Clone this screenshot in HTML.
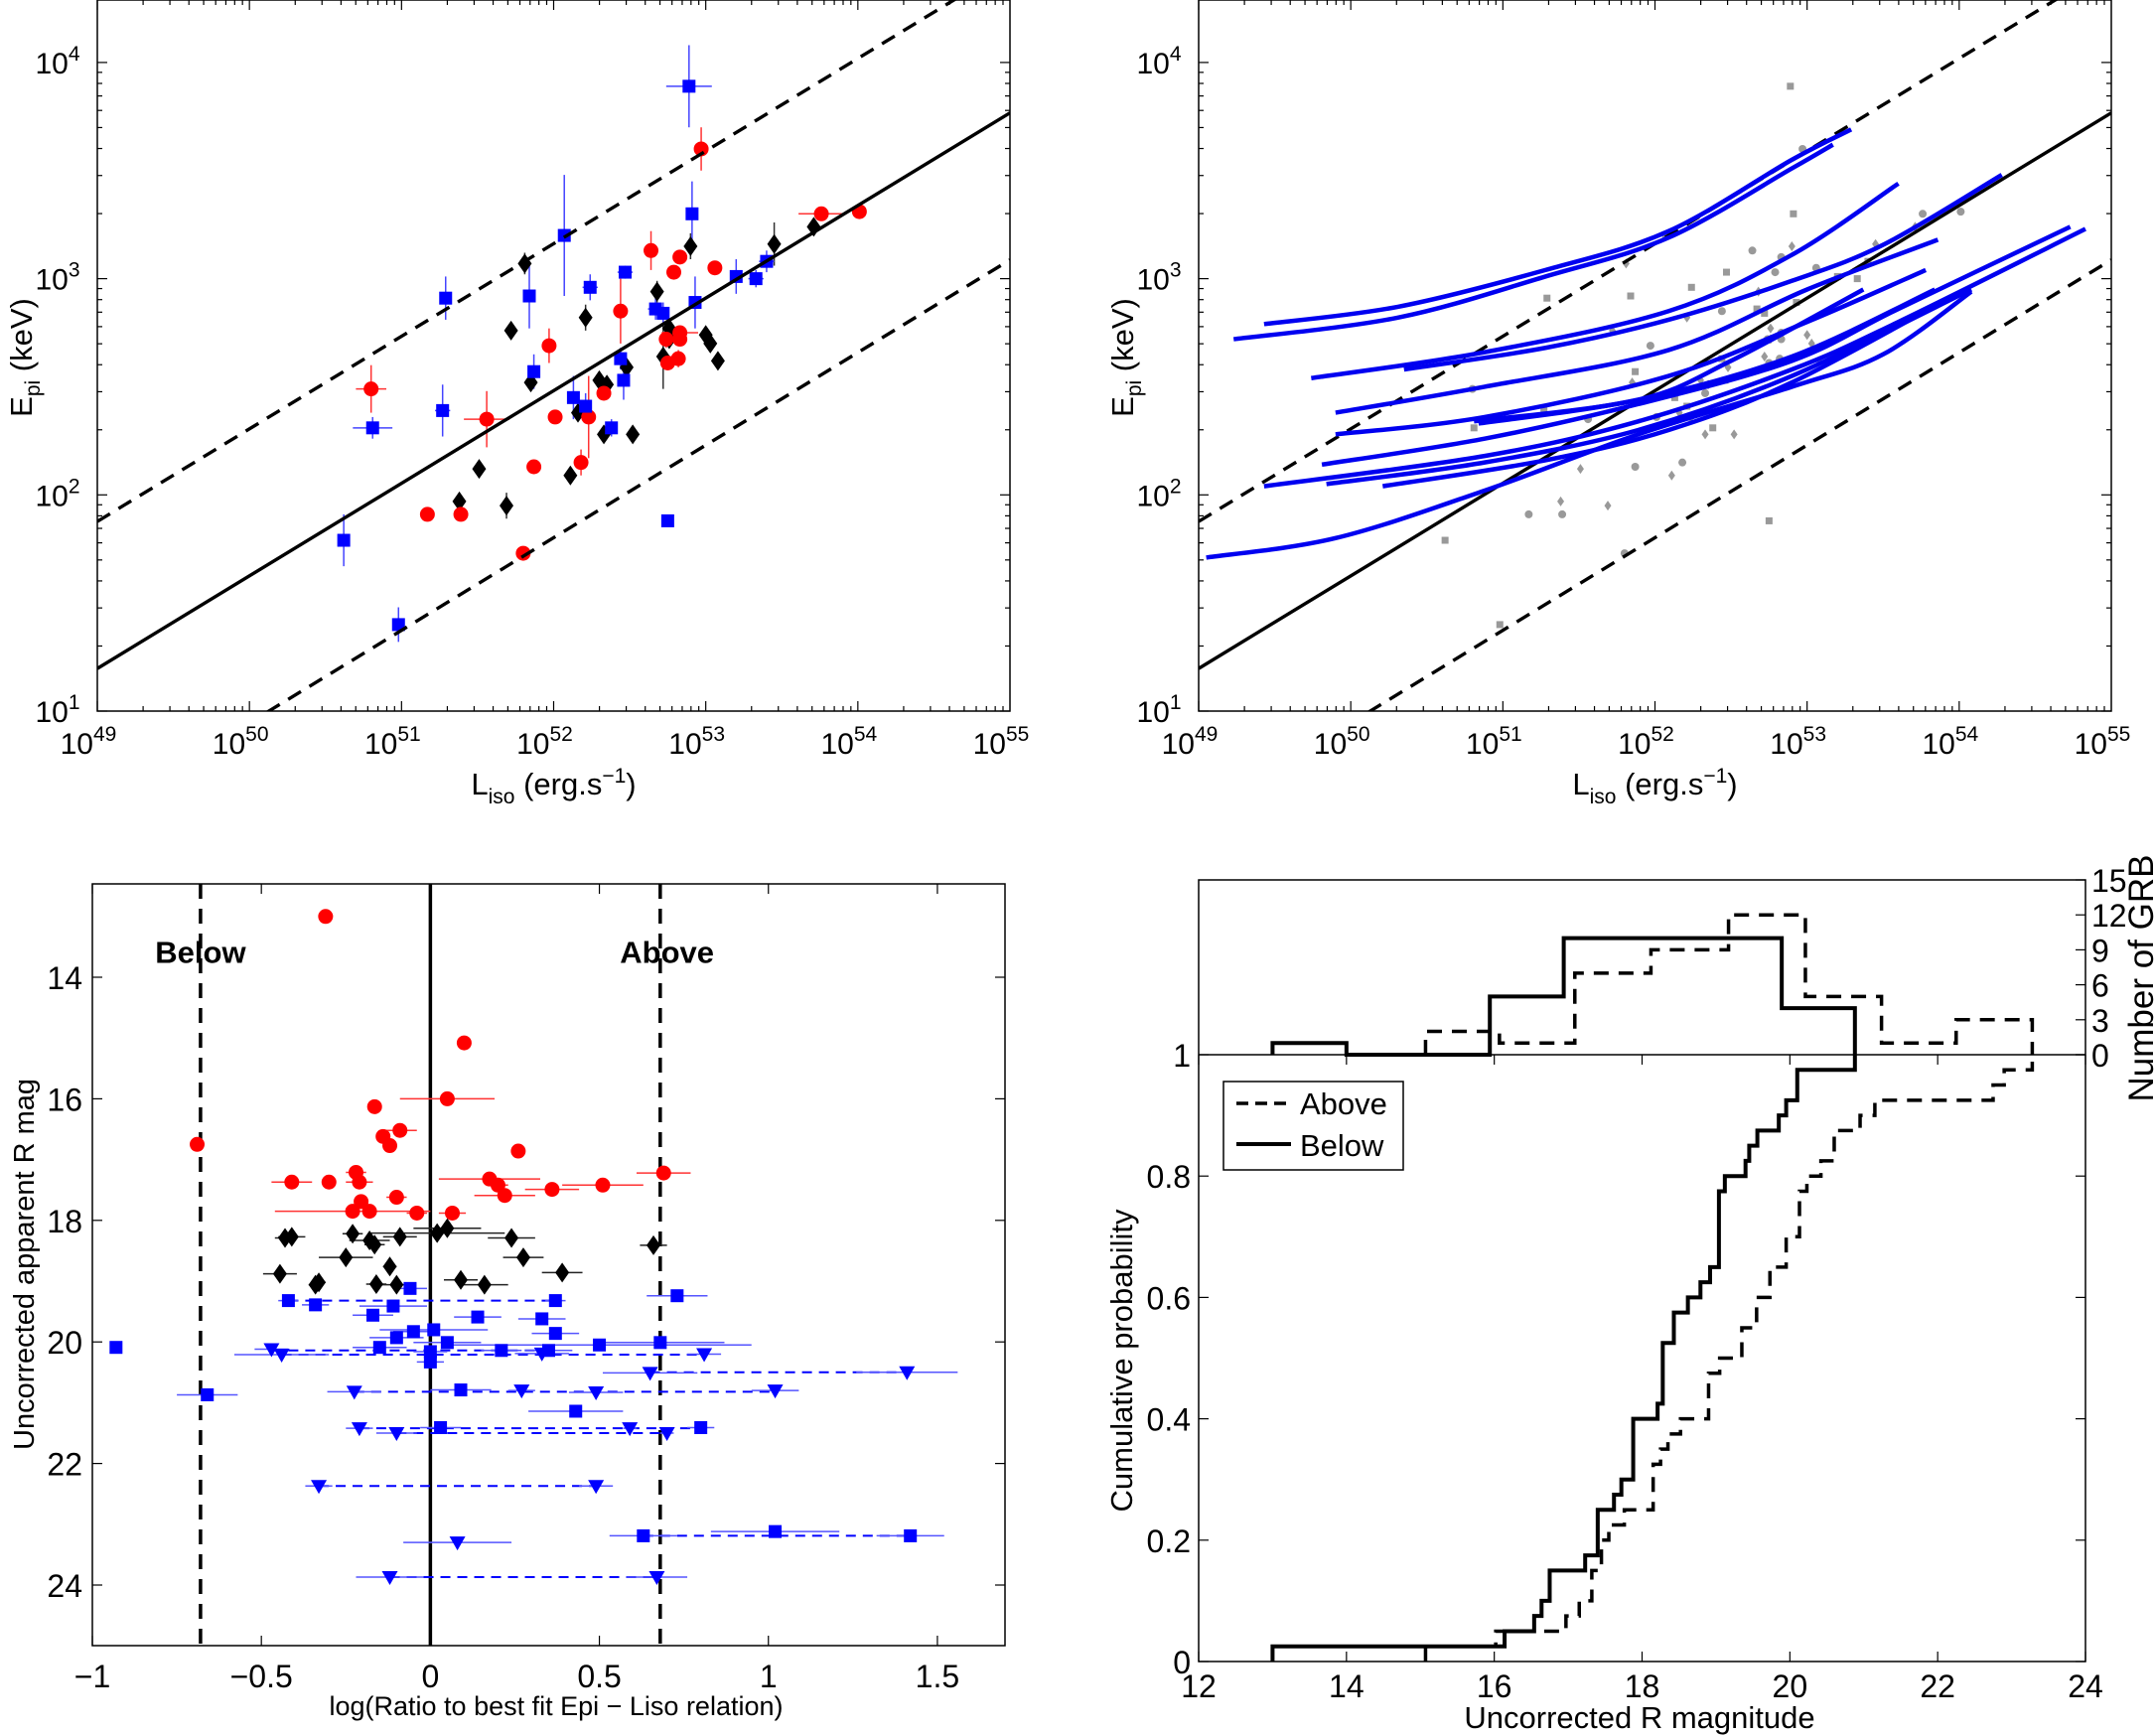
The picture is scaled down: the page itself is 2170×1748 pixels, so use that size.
<!DOCTYPE html>
<html><head><meta charset="utf-8"><style>
html,body{margin:0;padding:0;background:#fff}
svg{display:block;font-family:"Liberation Sans",Arial,sans-serif}
</style></head><body>
<svg id="fig" width="2170" height="1748" viewBox="0 0 2170 1748" xmlns="http://www.w3.org/2000/svg"></svg>
<script>
// ---------- Panel A/B data: log L_iso, log E_pi ----------
const blueL = [52.89,52.91,52.07,51.84,51.29,52.24,52.47,53.20,53.33,53.40,52.93,52.67,52.72,51.87,52.44,52.46,52.13,52.21,52.38,51.27,50.81,50.62,50.98,52.75];
const blueE = [3.89,3.30,3.20,2.92,2.91,2.96,3.03,3.01,3.00,3.08,2.89,2.86,2.84,2.57,2.63,2.53,2.45,2.41,2.31,2.39,2.31,1.79,1.40,1.88];
const blueEerr = [0.19,0.15,0.28,0.15,0.10,0.06,0.03,0.08,0.04,0.05,0.12,0.05,0.05,0.08,0.05,0.09,0.10,0.06,0.04,0.12,0.05,0.12,0.08,0.0];
const blueLerr = [0.15,0.02,0.03,0.02,0.04,0.05,0.05,0.03,0.05,0.05,0.03,0.05,0.02,0.03,0.03,0.02,0.04,0.03,0.02,0.05,0.13,0.02,0.02,0.0];
const redL = [52.97,53.76,54.01,52.64,52.83,52.79,53.06,52.44,51.97,52.74,52.83,52.83,52.82,52.75,52.33,50.80,51.56,52.01,52.23,52.18,51.87,51.17,51.39,51.80];
const redE = [3.60,3.30,3.31,3.13,3.10,3.03,3.05,2.85,2.69,2.72,2.72,2.75,2.63,2.61,2.47,2.49,2.35,2.36,2.36,2.15,2.13,1.91,1.91,1.73];
const redEerr = [0.1,0.03,0.02,0.09,0.03,0.03,0.03,0.15,0.08,0.04,0.03,0.03,0.04,0.03,0.03,0.11,0.13,0.02,0.19,0.06,0.02,0.02,0.02,0.02];
const redLerr = [0.02,0.15,0.02,0.02,0.02,0.02,0.02,0.02,0.02,0.02,0.02,0.12,0.02,0.02,0.02,0.1,0.15,0.02,0.02,0.02,0.02,0.02,0.02,0.02];
const blkL = [51.81,52.90,53.45,53.71,51.72,52.21,52.68,52.76,52.76,52.72,53.00,53.03,53.08,51.85,52.30,52.35,52.48,52.16,52.33,52.52,51.51,52.11,51.38,51.69];
const blkE = [3.07,3.15,3.16,3.24,2.76,2.82,2.94,2.77,2.72,2.64,2.74,2.70,2.62,2.52,2.53,2.51,2.59,2.38,2.28,2.28,2.12,2.09,1.97,1.95];
const blkEerr = [0.05,0.06,0.1,0.04,0.03,0.06,0.05,0.03,0.03,0.15,0.02,0.02,0.02,0.03,0.03,0.03,0.04,0.03,0.03,0.02,0.02,0.04,0.04,0.06];
const fitA = 1.197, fitB = 0.4283, fitW = 0.68;
// Track curves (log L, log E)
const curveL = [
 [49.43,50.31,51.28,52.09,52.90,53.29],
 [49.23,50.31,51.28,52.09,52.90,53.17],
 [49.74,50.88,52.09,52.90,53.60],
 [50.35,51.28,52.09,52.90,53.51,54.28],
 [49.90,50.88,52.09,53.00,53.86],
 [49.90,50.88,52.09,53.00,53.78],
 [50.81,51.89,52.50,53.37],
 [50.84,51.89,52.90,53.84],
 [49.81,50.88,51.89,52.90,53.60,54.73],
 [49.43,50.88,51.89,52.90,53.60,54.83],
 [49.84,50.88,51.89,52.90,54.08],
 [50.21,51.28,52.09,52.90,53.96],
 [49.05,49.90,50.88,51.89,52.90,53.50,54.08]];
const curveE = [
 [2.79,2.87,3.04,3.22,3.55,3.69],
 [2.72,2.82,3.01,3.19,3.51,3.62],
 [2.54,2.66,2.85,3.11,3.44],
 [2.58,2.68,2.81,2.99,3.16,3.48],
 [2.38,2.50,2.67,2.95,3.18],
 [2.28,2.36,2.55,2.80,3.04],
 [2.34,2.44,2.62,2.95],
 [2.33,2.44,2.64,2.95],
 [2.14,2.26,2.42,2.62,2.86,3.24],
 [2.04,2.18,2.34,2.58,2.80,3.23],
 [2.05,2.15,2.30,2.55,2.95],
 [2.04,2.16,2.30,2.52,2.92],
 [1.71,1.80,2.02,2.28,2.50,2.65,2.94]];
// ---------- Panel C data: log ratio, R mag ----------
const cRedX = [-0.31,0.10,0.05,-0.165,-0.09,-0.14,-0.12,-0.69,0.26,-0.22,-0.21,-0.41,-0.30,0.175,0.20,0.51,0.36,0.22,-0.10,0.69,-0.205,-0.23,-0.18,-0.04,0.065];
const cRedY = [13.0,15.08,16.0,16.13,16.52,16.62,16.77,16.75,16.86,17.21,17.37,17.37,17.37,17.32,17.42,17.42,17.49,17.59,17.62,17.22,17.69,17.85,17.85,17.88,17.88];
const cRedErr = [0,0,0.14,0,0.05,0.02,0,0,0,0.03,0.04,0.06,0,0.15,0.03,0.12,0.08,0.09,0.03,0.08,0,0.23,0.02,0.03,0.04];
const cBlkX = [-0.41,-0.43,-0.23,-0.18,-0.165,-0.09,0.02,0.05,0.24,0.66,-0.25,0.275,-0.12,-0.445,0.39,-0.34,-0.33,-0.16,-0.10,0.09,0.16];
const cBlkY = [18.27,18.29,18.22,18.33,18.40,18.27,18.21,18.13,18.29,18.41,18.61,18.61,18.76,18.88,18.86,19.06,19.02,19.05,19.06,18.98,19.06];
const cBlkErr = [0.04,0.03,0.03,0.06,0.03,0.05,0.2,0.1,0.07,0.04,0.08,0.06,0.02,0.05,0.06,0.02,0.02,0.03,0.05,0.05,0.07];
const cSqX = [-0.06,-0.42,0.37,-0.34,-0.11,0.73,-0.17,0.14,0.33,0.37,-0.05,0.01,-0.10,0.05,0.68,0.50,-0.15,0.21,0.35,0.00,0.00,-0.93,-0.66,0.09,0.43,0.03,0.80,0.63,1.02,1.42];
const cSqY = [19.12,19.32,19.32,19.39,19.41,19.24,19.56,19.59,19.62,19.86,19.83,19.80,19.93,20.01,20.01,20.05,20.09,20.14,20.14,20.16,20.33,20.09,20.87,20.79,21.14,21.41,21.41,23.19,23.12,23.19];
const cSqErr = [0.05,0.03,0.03,0.04,0.1,0.09,0.06,0.07,0.07,0.07,0.06,0.16,0.08,0.1,0.19,0.45,0.08,0.06,0.07,0.05,0.04,0,0.09,0.09,0.14,0.06,0.04,0.1,0.19,0.1];
const cTriX = [-0.47,-0.44,0.33,0.81,0.65,1.41,-0.225,0.27,0.49,1.02,-0.21,-0.10,0.59,0.70,-0.33,0.49,0.08,-0.12,0.67];
const cTriY = [20.12,20.21,20.19,20.20,20.51,20.50,20.82,20.80,20.83,20.80,21.42,21.50,21.42,21.50,22.37,22.37,23.30,23.87,23.87];
const cTriErr = [0.05,0.14,0.08,0.05,0.14,0.15,0.08,0.04,0.08,0.07,0.04,0.06,0.02,0.02,0.04,0.05,0.16,0.1,0.09];
const pairX1 = [-0.42,-0.47,-0.44,0.65,-0.225,-0.21,-0.10,-0.33,0.63,-0.12];
const pairX2 = [0.37,0.33,0.81,1.41,1.02,0.80,0.70,0.49,1.42,0.67];
const pairY = [19.32,20.14,20.21,20.50,20.82,21.42,21.50,22.37,23.19,23.87];
// ---------- Panel D data ----------
const belowEdges = [13,14,15,15.94,16.94,17.9,18.9,19.89,20.88];
const belowCounts = [1,0,0,5,10,10,10,4];
const aboveEdges = [15.07,16.07,17.09,18.12,19.17,20.21,21.24,22.25,23.28];
const aboveCounts = [2,1,7,9,12,5,1,3];
const belowCdfX = [13.0,16.14,16.54,16.64,16.75,17.23,17.40,17.62,17.72,17.88,18.21,18.28,18.43,18.62,18.79,18.92,19.04,19.12,19.40,19.45,19.56,19.85,19.95,20.10,20.88];
const belowCdfY = [0.025,0.05,0.075,0.1,0.15,0.175,0.25,0.275,0.3,0.4,0.425,0.525,0.575,0.6,0.625,0.65,0.775,0.8,0.825,0.85,0.875,0.9,0.925,0.975,1.0];
const aboveCdfX = [15.07,16.02,16.97,17.15,17.32,17.45,17.55,17.76,18.15,18.25,18.35,18.52,18.90,19.05,19.35,19.55,19.73,19.95,20.13,20.23,20.42,20.60,20.95,21.15,22.75,22.90,23.28];
const aboveCdfY = [0.025,0.05,0.075,0.1,0.15,0.2,0.225,0.25,0.325,0.35,0.375,0.4,0.475,0.5,0.55,0.6,0.65,0.7,0.775,0.8,0.825,0.875,0.9,0.925,0.95,0.975,1.0];

const NS="http://www.w3.org/2000/svg";
const svg=document.getElementById('fig');
function el(tag,attrs,parent){const e=document.createElementNS(NS,tag);for(const k in attrs)e.setAttribute(k,attrs[k]);(parent||svg).appendChild(e);return e;}
function grp(name){const g=el('g',{});return g;}
function smooth(p){ // Catmull-Rom to cubic bezier
  let d=`M${p[0][0]},${p[0][1]}`;
  for(let i=0;i<p.length-1;i++){const p0=p[Math.max(0,i-1)],p1=p[i],p2=p[i+1],p3=p[Math.min(p.length-1,i+2)];
    const c1=[p1[0]+(p2[0]-p0[0])/6,p1[1]+(p2[1]-p0[1])/6],c2=[p2[0]-(p3[0]-p1[0])/6,p2[1]-(p3[1]-p1[1])/6];
    d+=` C${c1[0]},${c1[1]} ${c2[0]},${c2[1]} ${p2[0]},${p2[1]}`;}
  return d;}

// ===== log panels A and B =====
function logPanel(px0,name,grey){
  const x0=px0,x1=px0+919,y0=0,y1=716;
  const X=l=>x0+(l-49)*(x1-x0)/6;
  const Y=e=>y1-(e-1)*217.7;
  const g=grp(name);
  const cid='clip-'+name;
  const cp=el('clipPath',{id:cid},g);el('rect',{x:x0,y:y0,width:x1-x0,height:y1-y0},cp);
  const tk=grp(name+'-ticks');g.appendChild(tk);
  for(let d=49;d<55;d++)for(let m=1;m<10;m++){const x=X(d+Math.log10(m));const L=m==1?10:5;
    el('line',{x1:x,y1:y1,x2:x,y2:y1-L,stroke:'#000','stroke-width':1.2},tk);el('line',{x1:x,y1:y0,x2:x,y2:y0+L,stroke:'#000','stroke-width':1.2},tk);}
  for(let d=1;d<5;d++)for(let m=1;m<10;m++){const v=d+Math.log10(m);if(v>4.285)continue;const y=Y(v);const L=m==1?10:5;
    el('line',{x1:x0,y1:y,x2:x0+L,y2:y,stroke:'#000','stroke-width':1.2},tk);el('line',{x1:x1,y1:y,x2:x1-L,y2:y,stroke:'#000','stroke-width':1.2},tk);}
  for(let d=49;d<=55;d++){const t=el('text',{x:X(d)-9,y:759,'font-size':30,'text-anchor':'middle'},tk);t.textContent='10';
    const s=el('tspan',{dy:-13,'font-size':21},t);s.textContent=d;}
  for(let d=1;d<=4;d++){const t=el('text',{x:x0-40,y:Y(d)+11,'font-size':30,'text-anchor':'middle'},tk);t.textContent='10';
    const s=el('tspan',{dy:-13,'font-size':21},t);s.textContent=d;}
  const yl=el('text',{x:0,y:0,'font-size':31,'text-anchor':'middle',transform:`translate(${x0-66},360) rotate(-90)`},g);
  
  yl.innerHTML='E<tspan font-size="21" dy="8">pi</tspan><tspan dy="-8"> (keV)</tspan>';
  const xl=el('text',{x:(x0+x1)/2,y:800,'font-size':31,'text-anchor':'middle'},g);
  
  xl.innerHTML='L<tspan font-size="21" dy="9">iso</tspan><tspan dy="-9"> (erg.s</tspan><tspan font-size="21" dy="-12">−1</tspan><tspan dy="12">)</tspan>';
  const pl=grp(name+'-plot');g.appendChild(pl);pl.setAttribute('clip-path',`url(#${cid})`);
  const fl=(off,dash,nm)=>{const l=el('line',{x1:X(49),y1:Y(fitA+off),x2:X(55),y2:Y(fitA+off+fitB*6),stroke:'#000','stroke-width':3.4},pl);
    if(dash)l.setAttribute('stroke-dasharray','15 10');};
  const sq=(x,y,s,c,p)=>el('rect',{x:x-s/2,y:y-s/2,width:s,height:s,fill:c},p);
  const ci=(x,y,r,c,p)=>el('circle',{cx:x,cy:y,r:r,fill:c},p);
  const di=(x,y,w,h,c,p)=>el('polygon',{points:`${x},${y-h} ${x+w},${y} ${x},${y+h} ${x-w},${y}`,fill:c},p);
  const pts=grp(name+'-points');pl.appendChild(pts);
  if(!grey){
    const eb=(L,E,le,ee,c)=>{el('line',{x1:X(L),y1:Y(E-ee),x2:X(L),y2:Y(E+ee),stroke:c,'stroke-width':1.5},pts);
      el('line',{x1:X(L-le),y1:Y(E),x2:X(L+le),y2:Y(E),stroke:c,'stroke-width':1.5},pts);};
    blkL.forEach((v,i)=>eb(v,blkE[i],0.03,blkEerr[i],'#333'));
    redL.forEach((v,i)=>eb(v,redE[i],redLerr[i],redEerr[i],'#f33'));
    blueL.forEach((v,i)=>eb(v,blueE[i],blueLerr[i],blueEerr[i],'#44f'));
  }
  fl(0,false,name+'-best-fit-line');fl(fitW,true,name+'-upper-bound');fl(-fitW,true,name+'-lower-bound');
  const gc=grey?'#999':null;
  blkL.forEach((v,i)=>di(X(v),Y(blkE[i]),grey?3.5:7,grey?5:10,gc||'#000',pts));
  redL.forEach((v,i)=>ci(X(v),Y(redE[i]),grey?4:7.5,gc||'#f00',pts));
  blueL.forEach((v,i)=>sq(X(v),Y(blueE[i]),grey?7:13,gc||'#00f',pts));
  if(grey){
    const cg=grp(name+'-tracks');pl.appendChild(cg);
    curveL.forEach((cl,i)=>{const p=el('path',{d:smooth(cl.map((v,j)=>[X(v),Y(curveE[i][j])])),fill:'none',stroke:'#0000f0','stroke-width':4.5,'stroke-linejoin':'round'},cg);
      });
  }
  el('rect',{x:x0,y:y0,width:x1-x0,height:y1-y0,fill:'none',stroke:'#000','stroke-width':1.5},g);
}
logPanel(98,'panel-a',false);
logPanel(1207,'panel-b',true);

// ===== Panel C =====
(function(){
  const x0=93,x1=1012,y0=890,y1=1657;
  const X=v=>x0+(v+1)*(x1-x0)/2.7;
  const Y=m=>984+(m-14)*61.2;
  const g=grp('panel-c');
  const tk=grp('panel-c-ticks');g.appendChild(tk);
  [-1,-0.5,0,0.5,1,1.5].forEach(v=>{const x=X(v);el('line',{x1:x,y1:y1,x2:x,y2:y1-10,stroke:'#000','stroke-width':1.2},tk);el('line',{x1:x,y1:y0,x2:x,y2:y0+10,stroke:'#000','stroke-width':1.2},tk);
    const t=el('text',{x:x,y:y1+42,'font-size':32,'text-anchor':'middle'},tk);t.textContent=(v<0?'−':'')+Math.abs(v);});
  [14,16,18,20,22,24].forEach(m=>{const y=Y(m);el('line',{x1:x0,y1:y,x2:x0+10,y2:y,stroke:'#000','stroke-width':1.2},tk);el('line',{x1:x1,y1:y,x2:x1-10,y2:y,stroke:'#000','stroke-width':1.2},tk);
    const t=el('text',{x:x0-10,y:y+12,'font-size':32,'text-anchor':'end'},tk);t.textContent=m;});
  const yl=el('text',{x:0,y:0,'font-size':29,'text-anchor':'middle',transform:`translate(34,1273) rotate(-90)`},g);yl.textContent='Uncorrected apparent R mag';
  
  const xl=el('text',{x:560,y:1727,'font-size':27,'text-anchor':'middle'},g);xl.textContent='log(Ratio to best fit Epi − Liso relation)';
  
  [[-fitW,true,'below-threshold-line'],[0,false,'zero-line'],[fitW,true,'above-threshold-line']].forEach(([v,d,n])=>{
    const l=el('line',{x1:X(v),y1:y0,x2:X(v),y2:y1,stroke:'#000','stroke-width':3.5},g);if(d)l.setAttribute('stroke-dasharray','15 10');
    });
  const tb=el('text',{x:X(-0.68),y:Y(13.58)+11,'font-size':31,'font-weight':'bold','text-anchor':'middle'},g);tb.textContent='Below';
  
  const ta=el('text',{x:X(0.70),y:Y(13.58)+11,'font-size':31,'font-weight':'bold','text-anchor':'middle'},g);ta.textContent='Above';
  
  const pts=grp('panel-c-points');g.appendChild(pts);
  pairX1.forEach((v,i)=>{el('line',{x1:X(v),y1:Y(pairY[i]),x2:X(pairX2[i]),y2:Y(pairY[i]),stroke:'#00f','stroke-width':2,'stroke-dasharray':'10 7'},pts);});
  const hb=(x,y,e,c)=>{if(e>0)el('line',{x1:X(x-e),y1:Y(y),x2:X(x+e),y2:Y(y),stroke:c,'stroke-width':1.5},pts);};
  cRedX.forEach((v,i)=>hb(v,cRedY[i],cRedErr[i],'#f33'));
  cBlkX.forEach((v,i)=>hb(v,cBlkY[i],cBlkErr[i],'#222'));
  cSqX.forEach((v,i)=>hb(v,cSqY[i],cSqErr[i],'#55f'));
  cTriX.forEach((v,i)=>hb(v,cTriY[i],cTriErr[i],'#55f'));
  cRedX.forEach((v,i)=>el('circle',{cx:X(v),cy:Y(cRedY[i]),r:7.5,fill:'#f00'},pts));
  cBlkX.forEach((v,i)=>{const x=X(v),y=Y(cBlkY[i]);el('polygon',{points:`${x},${y-10} ${x+7},${y} ${x},${y+10} ${x-7},${y}`,fill:'#000'},pts);});
  cSqX.forEach((v,i)=>el('rect',{x:X(v)-6.5,y:Y(cSqY[i])-6.5,width:13,height:13,fill:'#00f'},pts));
  cTriX.forEach((v,i)=>{const x=X(v),y=Y(cTriY[i]);el('polygon',{points:`${x-8},${y-6} ${x+8},${y-6} ${x},${y+8}`,fill:'#00f'},pts);});
  el('rect',{x:x0,y:y0,width:x1-x0,height:y1-y0,fill:'none',stroke:'#000','stroke-width':1.5},g);
})();

// ===== Panel D =====
(function(){
  const x0=1207,x1=2100,y0=886,y1=1673,yOne=1062;
  const X=m=>x0+(m-12)*(x1-x0)/12;
  const Y=p=>y1-p*(y1-yOne);
  const H=c=>yOne-c*(yOne-y0)/15;
  const g=grp('panel-d');
  const tk=grp('panel-d-ticks');g.appendChild(tk);
  [12,14,16,18,20,22,24].forEach(m=>{const x=X(m);el('line',{x1:x,y1:y1,x2:x,y2:y1-10,stroke:'#000','stroke-width':1.2},tk);el('line',{x1:x,y1:yOne,x2:x,y2:yOne+10,stroke:'#000','stroke-width':1.2},tk);
    const t=el('text',{x:x,y:y1+36,'font-size':32,'text-anchor':'middle'},tk);t.textContent=m;});
  [0,0.2,0.4,0.6,0.8,1].forEach(p=>{const y=Y(p);el('line',{x1:x0,y1:y,x2:x0+10,y2:y,stroke:'#000','stroke-width':1.2},tk);el('line',{x1:x1,y1:y,x2:x1-10,y2:y,stroke:'#000','stroke-width':1.2},tk);
    const t=el('text',{x:x0-8,y:y+12,'font-size':32,'text-anchor':'end'},tk);t.textContent=p;});
  [0,3,6,9,12,15].forEach(c=>{const y=H(c);el('line',{x1:x1,y1:y,x2:x1-10,y2:y,stroke:'#000','stroke-width':1.2},tk);
    const t=el('text',{x:x1+6,y:y+12,'font-size':32},tk);t.textContent=c;});
  const rl=el('text',{x:0,y:0,'font-size':35,'text-anchor':'middle',transform:`translate(2168,985) rotate(-90)`},g);rl.textContent='Number of GRB';
  
  const yl=el('text',{x:0,y:0,'font-size':31,'text-anchor':'middle',transform:`translate(1140,1370) rotate(-90)`},g);yl.textContent='Cumulative probability';
  
  const xl=el('text',{x:1651,y:1740,'font-size':31,'text-anchor':'middle'},g);xl.textContent='Uncorrected R magnitude';
  
  el('line',{x1:x0,y1:yOne,x2:x1,y2:yOne,stroke:'#000','stroke-width':1.5},g);
  const histPath=(edges,counts)=>{let d=`M${X(edges[0])},${H(0)}`;counts.forEach((c,i)=>{d+=` L${X(edges[i])},${H(c)} L${X(edges[i+1])},${H(c)}`;});d+=` L${X(edges[edges.length-1])},${H(0)}`;return d;};
  const cdfPath=(xs,ys,start)=>{let d=`M${X(start)},${Y(0)}`;let prev=0;xs.forEach((x,i)=>{d+=` L${X(x)},${Y(prev)} L${X(x)},${Y(ys[i])}`;prev=ys[i];});return d;};
  const hb=el('path',{d:histPath(belowEdges,belowCounts),fill:'none',stroke:'#000','stroke-width':4},g);
  const ha=el('path',{d:histPath(aboveEdges,aboveCounts),fill:'none',stroke:'#000','stroke-width':3.5,'stroke-dasharray':'15 10'},g);
  const cb=el('path',{d:cdfPath(belowCdfX,belowCdfY,13),fill:'none',stroke:'#000','stroke-width':4},g);
  const ca=el('path',{d:cdfPath(aboveCdfX,aboveCdfY,15.07),fill:'none',stroke:'#000','stroke-width':3.5,'stroke-dasharray':'15 10'},g);
  const lg=grp('legend');g.appendChild(lg);
  el('rect',{x:1232,y:1089,width:181,height:89,fill:'#fff',stroke:'#000','stroke-width':1.5},lg);
  el('line',{x1:1245,y1:1111,x2:1300,y2:1111,stroke:'#000','stroke-width':3.5,'stroke-dasharray':'12 7'},lg);
  el('line',{x1:1245,y1:1152,x2:1300,y2:1152,stroke:'#000','stroke-width':4},lg);
  const la=el('text',{x:1309,y:1122,'font-size':31},lg);la.textContent='Above';
  const lb=el('text',{x:1309,y:1164,'font-size':31},lg);lb.textContent='Below';
  el('rect',{x:x0,y:y0,width:x1-x0,height:y1-y0,fill:'none',stroke:'#000','stroke-width':1.5},g);
})();
</script>
</body></html>
